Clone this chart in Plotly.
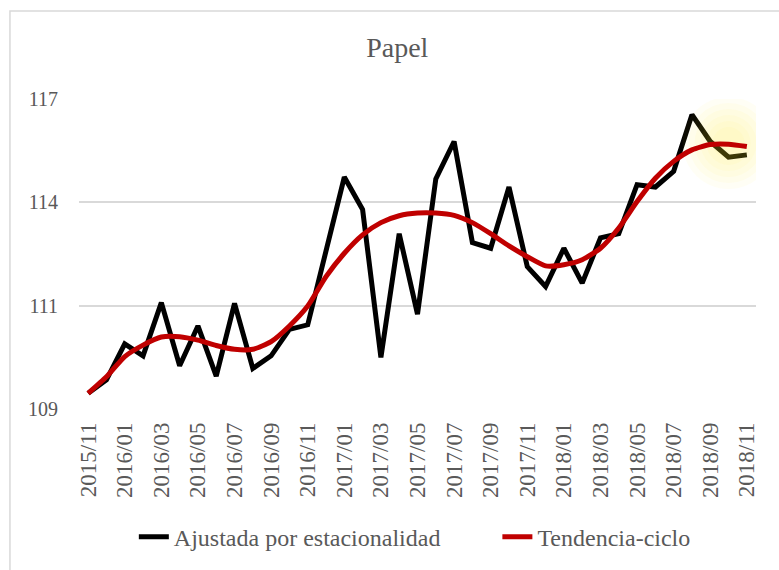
import plotly.graph_objects as go

# %% Data
months = [
    "2015/11", "2015/12",
    "2016/01", "2016/02", "2016/03", "2016/04", "2016/05", "2016/06",
    "2016/07", "2016/08", "2016/09", "2016/10", "2016/11", "2016/12",
    "2017/01", "2017/02", "2017/03", "2017/04", "2017/05", "2017/06",
    "2017/07", "2017/08", "2017/09", "2017/10", "2017/11", "2017/12",
    "2018/01", "2018/02", "2018/03", "2018/04", "2018/05", "2018/06",
    "2018/07", "2018/08", "2018/09", "2018/10", "2018/11",
]

ajustada = [
    109.01, 109.36, 110.30, 109.99, 111.38, 109.73, 110.77, 109.46,
    111.36, 109.66, 109.99, 110.68, 110.80, 112.73, 114.66, 113.81,
    109.95, 113.18, 111.08, 114.61, 115.59, 112.95, 112.80, 114.40,
    112.32, 111.80, 112.80, 111.89, 113.07, 113.18, 114.46, 114.40,
    114.81, 116.29, 115.59, 115.18, 115.24,
]

tendencia = [
    109.01, 109.44, 109.97, 110.27, 110.48, 110.49, 110.40, 110.26,
    110.16, 110.16, 110.36, 110.77, 111.29, 112.06, 112.67, 113.15,
    113.47, 113.65, 113.72, 113.72, 113.66, 113.47, 113.18, 112.86,
    112.58, 112.34, 112.37, 112.50, 112.80, 113.33, 114.02, 114.63,
    115.07, 115.37, 115.51, 115.52, 115.46,
]

y_ticks = [108.6, 111.3, 114.0, 116.7]

FONT = "Palatino Linotype, Book Antiqua, Palatino, Liberation Serif, serif"
GREY = "#595959"

# %% Figure
fig = go.Figure()

fig.add_trace(
    go.Scatter(
        x=months,
        y=ajustada,
        mode="lines",
        name="Ajustada por estacionalidad",
        line=dict(color="#000000", width=5),
        legend="legend",
    )
)

# soft yellow glow around the last points (stacked translucent discs)
glow_sizes = [92, 80, 68, 56, 44, 32]
fig.add_trace(
    go.Scatter(
        x=[months[-2]] * len(glow_sizes),
        y=[115.55] * len(glow_sizes),
        mode="markers",
        marker=dict(
            size=glow_sizes,
            color="rgba(255,236,40,0.07)",
            line=dict(width=0),
        ),
        showlegend=False,
        hoverinfo="skip",
    )
)

fig.add_trace(
    go.Scatter(
        x=months,
        y=tendencia,
        mode="lines",
        name="Tendencia-ciclo",
        line=dict(color="#c00000", width=5, shape="spline", smoothing=0.6),
        legend="legend2",
    )
)

legend_style = dict(
    orientation="h",
    xanchor="left",
    y=-0.413,
    yanchor="middle",
    font=dict(family=FONT, color=GREY, size=24),
    bgcolor="rgba(0,0,0,0)",
)

fig.update_layout(
    width=779,
    height=570,
    margin=dict(l=79, r=23, t=99, b=161, autoexpand=False),
    paper_bgcolor="white",
    plot_bgcolor="white",
    font=dict(family=FONT, color=GREY, size=21),
    title=dict(
        text="Papel",
        x=0.51,
        xref="container",
        xanchor="center",
        y=1 - 47 / 570,
        yref="container",
        yanchor="middle",
        font=dict(family=FONT, color=GREY, size=28),
    ),
    showlegend=True,
    legend=dict(x=0.081, **legend_style),
    legend2=dict(x=0.618, **legend_style),
    shapes=[
        dict(
            type="rect",
            xref="paper",
            yref="paper",
            x0=-0.102,
            x1=1.1,
            y0=-0.6,
            y1=1.284,
            line=dict(color="#d9d9d9", width=1.5),
            layer="below",
        )
    ],
)

fig.update_xaxes(
    type="category",
    range=[-0.5, len(months) - 0.5],
    tickvals=months[::2],
    tickangle=-90,
    showgrid=False,
    showline=False,
    zeroline=False,
    ticks="",
    ticklabelstandoff=8,
    tickfont=dict(family=FONT, color=GREY, size=23),
)

fig.update_yaxes(
    range=[y_ticks[0], y_ticks[-1]],
    tickvals=y_ticks,
    tickformat=".0f",
    showgrid=True,
    gridcolor="#d9d9d9",
    gridwidth=1.5,
    zeroline=False,
    showline=False,
    ticks="",
    ticklabelstandoff=20,
    tickfont=dict(family=FONT, color=GREY, size=20),
)

fig.write_html(
    "out.html",
    config={"displayModeBar": False},
    post_script="document.body.style.margin='0';",
)
